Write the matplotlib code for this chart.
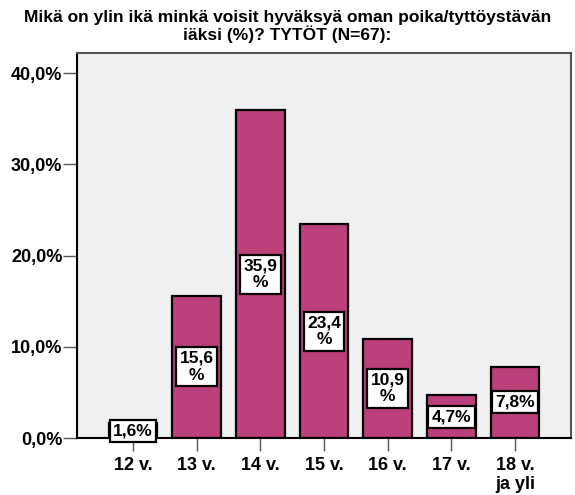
import matplotlib
matplotlib.use("Agg")
import matplotlib.pyplot as plt

categories = ["12 v.", "13 v.", "14 v.", "15 v.", "16 v.", "17 v.", "18 v.\nja yli"]
values = [1.6, 15.6, 35.9, 23.4, 10.9, 4.7, 7.8]
yticks = [0, 10, 20, 30, 40]
ytick_labels = ["0,0%", "10,0%", "20,0%", "30,0%", "40,0%"]
title = "Mikä on ylin ikä minkä voisit hyväksyä oman poika/tyttöystävän\niäksi (%)? TYTÖT (N=67):"

plt.rcParams['font.family'] = ['Liberation Sans', 'DejaVu Sans']

fig = plt.figure(figsize=(5.75, 4.95), dpi=100)
ax = fig.add_axes([77/575, 1-438/495, (571-77)/575, (438-53)/495])
ax.set_facecolor("#F0F0F0")

x = list(range(len(categories)))
ax.bar(x, values, width=0.76, color="#BB3F7B", edgecolor="black", linewidth=1.6, zorder=2)

for xi, v in zip(x, values):
    s = f"{v:.1f}".replace(".", ",")
    s = s + ("%" if v < 10 else "\n%")
    ax.text(xi, v/2, s, ha="center", va="center", fontsize=12.5, fontweight="bold",
            linespacing=1.15, zorder=3,
            bbox=dict(boxstyle="square,pad=0.2", facecolor="white", edgecolor="black", linewidth=1.6))

ax.set_xlim(-0.88, len(categories) - 1 + 0.88)
ax.set_ylim(0, (438-53)/9.125)
ax.set_yticks(yticks)
ax.set_yticklabels(ytick_labels, fontsize=13, fontweight="bold")
ax.set_xticks(x)
ax.set_xticklabels(categories, fontsize=13, fontweight="bold", linespacing=1.1)
ax.tick_params(axis="y", length=10, width=1, color="#555555", pad=0.5)
ax.tick_params(axis="x", length=9, width=1, color="#555555", pad=5)

for side in ["left", "bottom"]:
    ax.spines[side].set_linewidth(1.5)
    ax.spines[side].set_color("black")
for side in ["top", "right"]:
    ax.spines[side].set_linewidth(1.5)
    ax.spines[side].set_color("#555555")

fig.text(0.5, 1-10/495, title, ha="center", va="top", fontsize=12.5, fontweight="bold", linespacing=1.05)

fig.savefig("out.png", dpi=100)
